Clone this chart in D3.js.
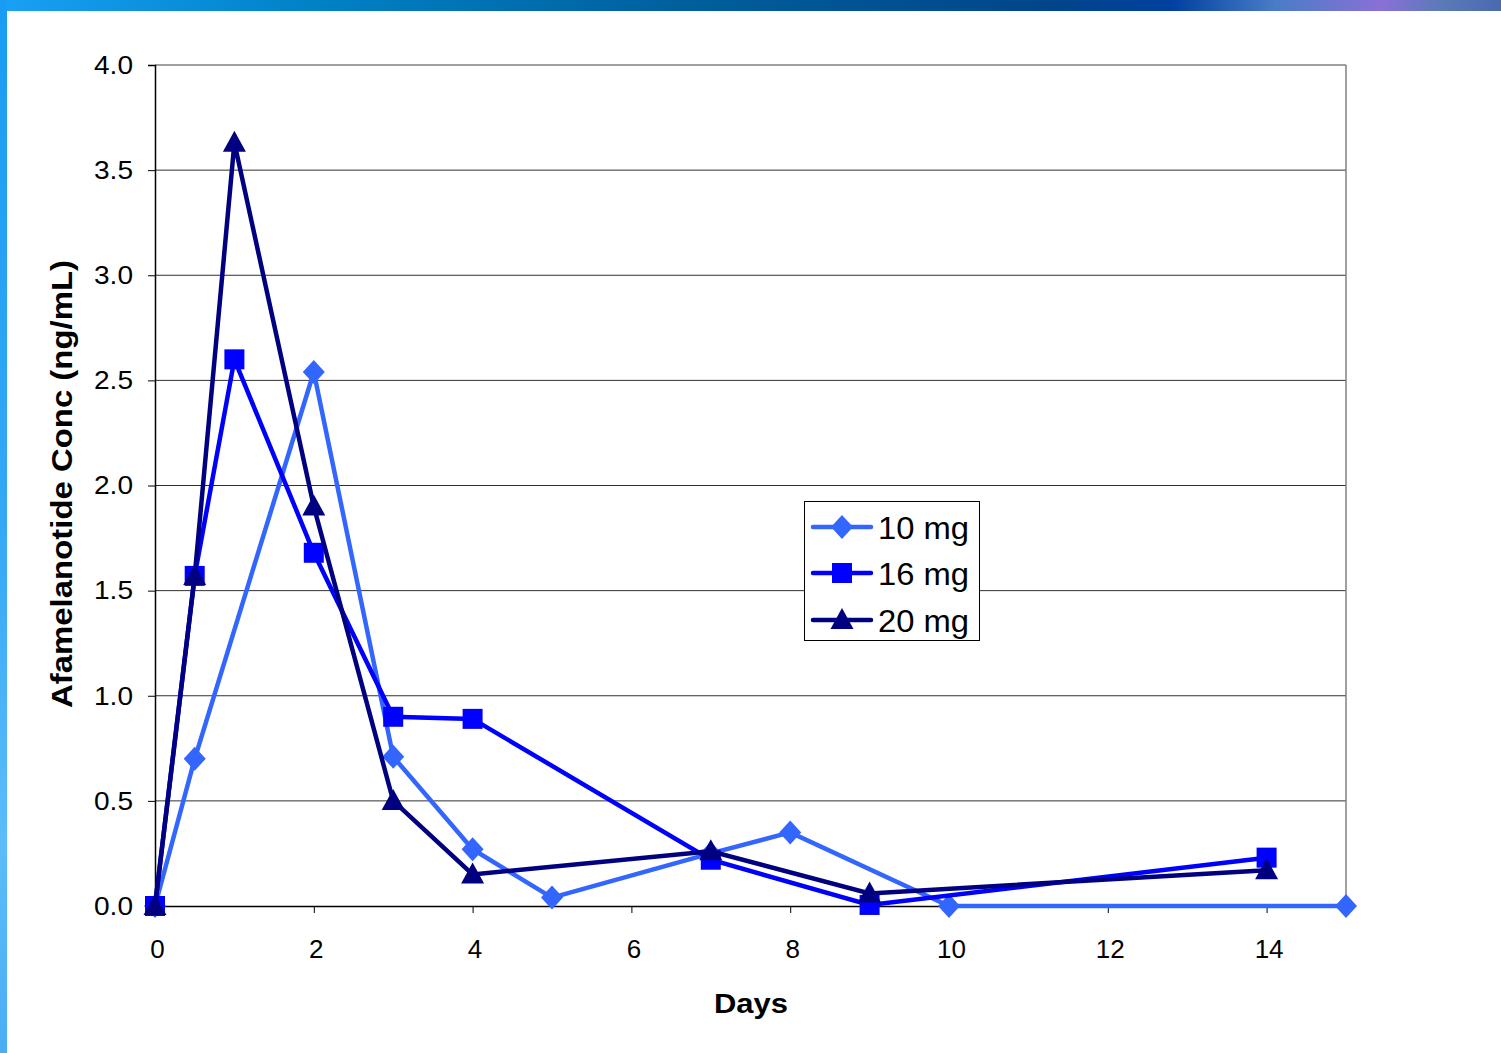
<!DOCTYPE html>
<html><head><meta charset="utf-8">
<script src="https://cdn.jsdelivr.net/npm/d3@7"></script>
<style>body{margin:0;background:#fff;}svg{display:block;}</style>
</head><body>
<svg id="c" width="1501" height="1053"></svg>
<script>
const xTicks = [0,2,4,6,8,10,12,14];
const yTicks = [0.0,0.5,1.0,1.5,2.0,2.5,3.0,3.5,4.0];
const seriesNames = ["10 mg","16 mg","20 mg"];
const days10 = [0,0.5,2,3,4,5,7,8,10,15];
const conc10 = [0,0.70,2.54,0.71,0.27,0.04,0.25,0.35,0.0,0];
const days16 = [0,0.5,1,2,3,4,7,9,14];
const conc16 = [0,1.57,2.60,1.68,0.90,0.89,0.22,0.005,0.23];
const days20 = [0,0.5,1,2,3,4,7,9,14];
const conc20 = [0,1.57,3.63,1.90,0.50,0.15,0.26,0.06,0.17];

const svg = d3.select("#c");
const defs = svg.append("defs");
const gt = defs.append("linearGradient").attr("id","gt").attr("x1","0").attr("x2","1");
[[0,"#1aa0f5"],[0.2,"#0083c8"],[0.45,"#00609e"],[0.7,"#00458a"],[0.78,"#0040a0"],[0.85,"#4a7cc8"],[0.92,"#8a70d8"],[0.96,"#5a7ab8"],[1,"#4a6ab0"]].forEach(s=>gt.append("stop").attr("offset",s[0]).attr("stop-color",s[1]));
const gl = defs.append("linearGradient").attr("id","gl").attr("x1","0").attr("x2","0").attr("y1","0").attr("y2","1");
[[0,"#1a9cf2"],[0.5,"#35a8f5"],[0.8,"#5cbcfa"],[1,"#4aaef5"]].forEach(s=>gl.append("stop").attr("offset",s[0]).attr("stop-color",s[1]));
svg.append("rect").attr("x",0).attr("y",0).attr("width",1501).attr("height",11).attr("fill","url(#gt)");
svg.append("rect").attr("x",0).attr("y",0).attr("width",7).attr("height",1053).attr("fill","url(#gl)");

const L=155,R=1346,T=65,B=906;
const x = d3.scaleLinear().domain([0,15]).range([L,R]);
const y = d3.scaleLinear().domain([0,4]).range([B,T]);

svg.append("g").selectAll("line").data(yTicks.filter(d=>d>0&&d<4)).join("line")
  .attr("x1",L).attr("x2",R).attr("y1",d=>y(d)).attr("y2",d=>y(d))
  .attr("stroke","#303030").attr("stroke-width",1);
svg.append("line").attr("x1",L).attr("x2",R).attr("y1",T).attr("y2",T).attr("stroke","#808080").attr("stroke-width",1.5);
svg.append("line").attr("x1",R).attr("x2",R).attr("y1",T).attr("y2",B).attr("stroke","#808080").attr("stroke-width",1.5);

const font = "Liberation Sans, Arial, sans-serif";
const ya = svg.append("g").attr("transform",`translate(${L},0)`)
  .call(d3.axisLeft(y).tickValues(yTicks).tickFormat(d3.format(".1f")).tickSizeInner(7).tickSizeOuter(7).tickPadding(15));
ya.select(".domain").attr("stroke","#000").attr("stroke-width",1.5);
ya.selectAll(".tick line").attr("stroke","#000");
ya.selectAll("text").attr("font-family",font).attr("font-size",26).attr("fill","#000")
  .attr("textLength",39).attr("lengthAdjust","spacingAndGlyphs");
const xa = svg.append("g").attr("transform",`translate(0,${B})`)
  .call(d3.axisBottom(x).tickValues(xTicks).tickSizeInner(7).tickSizeOuter(0).tickPadding(27));
xa.select(".domain").attr("stroke","#000").attr("stroke-width",1.5);
xa.selectAll(".tick line").attr("stroke","#000");
xa.selectAll("text").attr("font-family",font).attr("font-size",26).attr("fill","#000").attr("dx",2);

svg.append("text").attr("x",751).attr("y",1013).attr("text-anchor","middle")
  .attr("font-family",font).attr("font-size",28).attr("font-weight","bold")
  .attr("textLength",74).attr("lengthAdjust","spacingAndGlyphs").text("Days");
svg.append("text").attr("transform","translate(72,484) rotate(-90)").attr("text-anchor","middle")
  .attr("font-family",font).attr("font-size",29).attr("font-weight","bold")
  .attr("textLength",448).attr("lengthAdjust","spacingAndGlyphs").text("Afamelanotide Conc (ng/mL)");

const colors = ["#3366ff","#0000ff","#000080"];
const data = [d3.zip(days10,conc10), d3.zip(days16,conc16), d3.zip(days20,conc20)];
const line = d3.line().x(d=>x(d[0])).y(d=>y(d[1]));
const shapes = [
  "M0,-12L11,0L0,12L-11,0Z",
  "M-10,-10H10V10H-10Z",
  "M0,-12L11.5,9H-11.5Z"
];
function marker(g, i, cx, cy){
  g.append("path").attr("d",shapes[i]).attr("transform",`translate(${cx},${cy})`).attr("fill",colors[i]);
}

data.forEach((ser,i)=>{
  const g = svg.append("g");
  g.append("path").datum(ser).attr("d",line).attr("fill","none").attr("stroke",colors[i]).attr("stroke-width",4.5).attr("stroke-linejoin","miter");
  ser.forEach(d=>marker(g,i,x(d[0]),y(d[1])));
});

const lg = svg.append("g");
lg.append("rect").attr("x",804.5).attr("y",501.5).attr("width",175).attr("height",139).attr("fill","#fff").attr("stroke","#000").attr("stroke-width",1);
const ly = [527,573,620];
seriesNames.forEach((n,i)=>{
  lg.append("line").attr("x1",813).attr("x2",871).attr("y1",ly[i]).attr("y2",ly[i]).attr("stroke",colors[i]).attr("stroke-width",4.5).attr("stroke-linecap","round");
  marker(lg,i,842,ly[i]);
  lg.append("text").attr("x",878).attr("y",ly[i]+12).attr("font-family",font).attr("font-size",32).attr("fill","#000")
    .attr("textLength",91).attr("lengthAdjust","spacingAndGlyphs").text(n);
});
</script>
</body></html>
